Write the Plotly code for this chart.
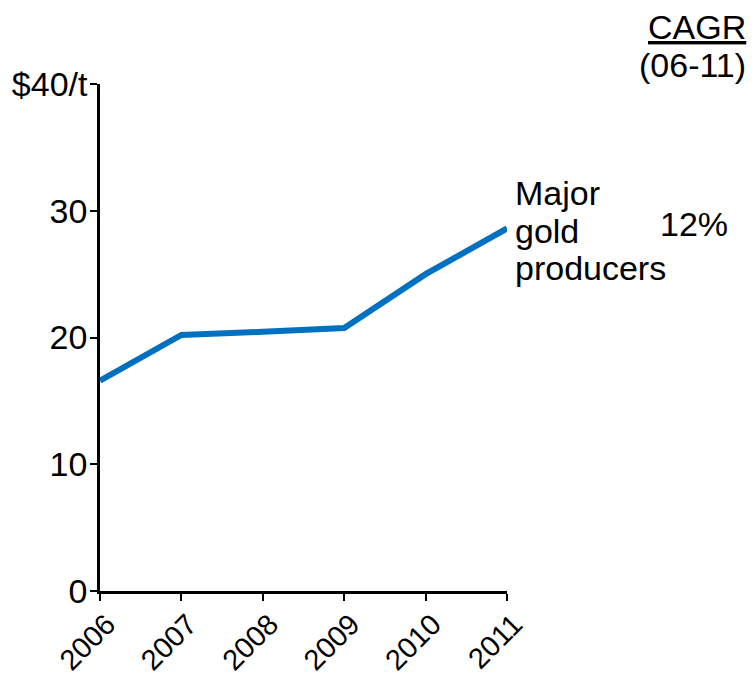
import plotly.graph_objects as go

years = [2006, 2007, 2008, 2009, 2010, 2011]
values = [16.6, 20.2, 20.45, 20.75, 25.0, 28.6]
y_ticks = [0, 10, 20, 30, 40]
y_labels = ["0", "10", "20", "30", "$40/t"]
x_labels = ["2006", "2007", "2008", "2009", "2010", "2011"]
series_label = ["Major", "gold", "producers"]
cagr_value = "12%"
cagr_header = ["<u>CAGR</u>", "(06-11)"]

font_family = "Liberation Sans, Arial, sans-serif"
FS = 34

# plot area geometry (px)
L, R, T, B = 100, 247, 84, 84
H = 675 - T - B


def py(pixel_y):
    """convert a pixel row on the page to paper y"""
    return (675 - B - pixel_y) / H


fig = go.Figure()
fig.add_trace(go.Scatter(
    x=years, y=values, mode="lines",
    line=dict(color="#0070C0", width=6),
    cliponaxis=False, showlegend=False,
))

axis_common = dict(
    showgrid=False, zeroline=False, automargin=False,
    showline=True, linecolor="black", linewidth=2.5,
    ticks="outside", ticklen=7, tickwidth=2, tickcolor="black",
)

annotations = []
for i, txt in enumerate(series_label):
    annotations.append(dict(
        xref="x", yref="paper", x=2011, xshift=6, y=py(193 + 37.5 * i),
        text=txt, showarrow=False, xanchor="left", yanchor="middle",
        font=dict(size=FS)))
annotations.append(dict(
    xref="x", yref="paper", x=2011, xshift=151, y=py(224),
    text=cagr_value, showarrow=False, xanchor="left", yanchor="middle",
    font=dict(size=FS)))
for i, txt in enumerate(cagr_header):
    annotations.append(dict(
        xref="paper", yref="paper", x=1.0, xshift=241, y=py(27 + 38 * i),
        text=txt, showarrow=False, xanchor="right", yanchor="middle",
        font=dict(size=FS)))

fig.update_layout(
    width=754, height=675,
    margin=dict(l=L, r=R, t=T, b=B),
    paper_bgcolor="white", plot_bgcolor="white",
    font=dict(family=font_family, size=FS, color="black"),
    xaxis=dict(range=[2006, 2011], tickvals=years, ticktext=x_labels,
               tickangle=-45, ticklabelshift=7, ticklabelstandoff=-5,
               tickfont=dict(size=29), **axis_common),
    yaxis=dict(range=[0, 40], tickvals=y_ticks, ticktext=y_labels,
               ticklabelstandoff=-4, tickfont=dict(size=FS), **axis_common),
    annotations=annotations,
)

fig.write_html("out.html")
